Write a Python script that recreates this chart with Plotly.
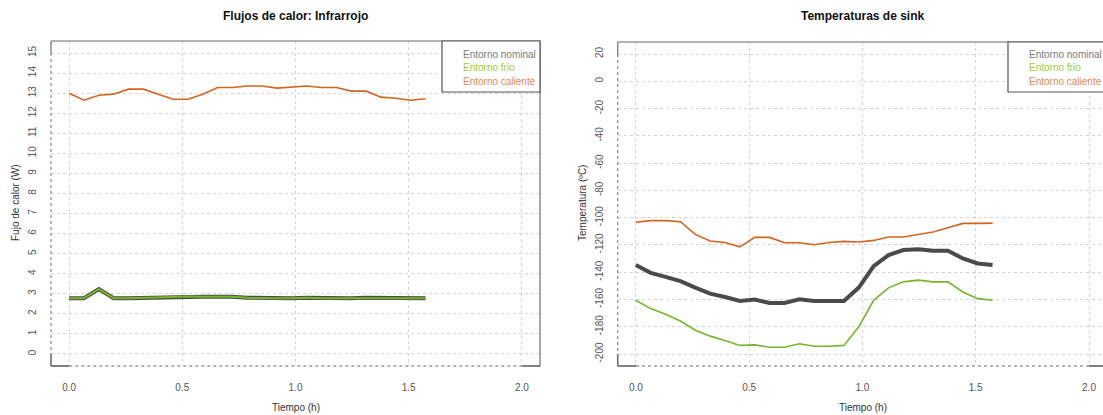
import plotly.graph_objects as go

# ---------------- data ----------------
tiempo = [0.000, 0.0656, 0.1312, 0.1968, 0.2624, 0.328, 0.3936, 0.4592, 0.5248,
          0.5904, 0.656, 0.7216, 0.7872, 0.8528, 0.9184, 0.984, 1.0496, 1.1152,
          1.1808, 1.2464, 1.312, 1.3776, 1.4432, 1.5088, 1.5744]

ir_nominal = [2.78, 2.78, 3.23, 2.78, 2.78, 2.80, 2.80, 2.82, 2.87, 2.85, 2.85, 2.85, 2.80,
              2.78, 2.78, 2.78, 2.80, 2.78, 2.78, 2.78, 2.80, 2.80, 2.78, 2.78, 2.78]
ir_frio = [2.78, 2.78, 3.23, 2.78, 2.78, 2.80, 2.80, 2.82, 2.87, 2.85, 2.85, 2.85, 2.80,
           2.78, 2.78, 2.78, 2.80, 2.78, 2.78, 2.78, 2.80, 2.80, 2.78, 2.78, 2.78]
ir_caliente = [13.0, 12.65, 12.9, 12.95, 13.2, 13.2, 12.95, 12.7, 12.7, 12.95, 13.28, 13.28, 13.36,
               13.36, 13.25, 13.3, 13.36, 13.28, 13.28, 13.1, 13.1, 12.8, 12.75, 12.65, 12.72]

sink_nominal = [-134.8, -140.5, -143.4, -146.6, -151.3, -155.7, -158.2, -161.1, -160.1, -162.6,
                -162.6, -159.9, -161.1, -161.1, -161.1, -151.3, -135.6, -127.5, -123.8, -123.1,
                -124.3, -124.3, -129.9, -133.6, -134.8]
sink_frio = [-160.6, -166.7, -170.9, -175.8, -182.6, -186.9, -190.1, -193.7, -193.3, -195.0,
             -195.0, -192.5, -194.3, -194.3, -193.7, -180.0, -160.6, -151.5, -147.1, -145.8,
             -147.1, -147.1, -154.5, -159.4, -160.6]
sink_caliente = [-103.4, -102.2, -102.2, -103.0, -112.3, -117.2, -118.2, -121.4, -114.5, -114.5,
                 -118.4, -118.4, -119.9, -118.2, -117.4, -117.9, -116.7, -114.2, -114.2, -112.5,
                 -110.6, -107.4, -104.2, -104.2, -104.0]

x_ticks = [0.0, 0.5, 1.0, 1.5, 2.0]
x_ticktext = ["0.0", "0.5", "1.0", "1.5", "2.0"]
ir_ticks = list(range(0, 16))
ir_ticktext = [str(v) for v in ir_ticks]
sink_ticks = [-200, -180, -160, -140, -120, -100, -80, -60, -40, -20, 0, 20]
sink_ticktext = [str(v) for v in sink_ticks]

legend_labels = ["Entorno nominal", "Entorno frio", "Entorno caliente"]

# ---------------- styles ----------------
OFF = 0
W, H = 1103, 415
C_NOM = "#4a4a4a"
C_FRIO = "#76b62a"
C_CAL = "#d2641f"
LEG_COLORS = ["#7a7a7a", "#9acd32", "#e08a55"]
FONT = "Liberation Sans, Arial, sans-serif"
GRID = "#d3d3d3"
GDASH = "3px,3px"

def px(x):
    return (x - OFF) / W

def py(y):
    return 1 - (y - OFF) / H

L_BOX = (51, 540, 41, 366)
R_BOX = (617.7, 1107, 42, 366)

fig = go.Figure()

# left panel
fig.add_trace(go.Scatter(x=tiempo, y=ir_nominal, mode="lines", line=dict(color=C_NOM, width=4),
                         xaxis="x", yaxis="y", showlegend=False))
fig.add_trace(go.Scatter(x=tiempo, y=ir_frio, mode="lines", line=dict(color=C_FRIO, width=2),
                         xaxis="x", yaxis="y", showlegend=False))
fig.add_trace(go.Scatter(x=tiempo, y=ir_caliente, mode="lines", line=dict(color=C_CAL, width=1.6),
                         xaxis="x", yaxis="y", showlegend=False))
# right panel
fig.add_trace(go.Scatter(x=tiempo, y=sink_nominal, mode="lines", line=dict(color=C_NOM, width=4),
                         xaxis="x2", yaxis="y2", showlegend=False))
fig.add_trace(go.Scatter(x=tiempo, y=sink_frio, mode="lines", line=dict(color=C_FRIO, width=1.6),
                         xaxis="x2", yaxis="y2", showlegend=False))
fig.add_trace(go.Scatter(x=tiempo, y=sink_caliente, mode="lines", line=dict(color=C_CAL, width=1.6),
                         xaxis="x2", yaxis="y2", showlegend=False))

tickfont = dict(family=FONT, size=10, color="#555555")
common_x = dict(tickvals=x_ticks, ticktext=x_ticktext, showgrid=True, gridcolor=GRID, griddash=GDASH,
                gridwidth=1, zeroline=False, showline=False, ticks="", tickfont=tickfont,
                ticklabelstandoff=14)
common_y = dict(showgrid=True, gridcolor=GRID, griddash=GDASH, gridwidth=1, zeroline=False,
                showline=False, ticks="", tickfont=tickfont, tickangle=-90, ticklabelstandoff=12)

fig.update_layout(
    width=W, height=H, autosize=False,
    margin=dict(l=0, r=0, t=0, b=0),
    paper_bgcolor="white", plot_bgcolor="white",
    xaxis=dict(domain=[px(L_BOX[0]), px(L_BOX[1])], range=[-0.08, 2.08], anchor="y", **common_x),
    yaxis=dict(domain=[py(L_BOX[3]), py(L_BOX[2])], range=[-0.6, 15.6], anchor="x",
               tickvals=ir_ticks, ticktext=ir_ticktext, **common_y),
    xaxis2=dict(domain=[px(R_BOX[0]), 1.0], range=[-0.08, 2.0618], anchor="y2", **common_x),
    yaxis2=dict(domain=[py(R_BOX[3]), py(R_BOX[2])], range=[-208.8, 28.8], anchor="x2",
                tickvals=sink_ticks, ticktext=sink_ticktext, **common_y),
    showlegend=False,
    hovermode=False,
)

shapes = []
annotations = []

def frame(box, x0val_px, x2val_px, ytop_tick_px, ybot_tick_px):
    l, r, t, b = box
    shapes.append(dict(type="line", xref="paper", yref="paper", x0=px(l), x1=px(r), y0=py(t), y1=py(t),
                       line=dict(color="#9a9a9a", width=1.5)))
    shapes.append(dict(type="line", xref="paper", yref="paper", x0=px(r), x1=px(r), y0=py(t), y1=py(b),
                       line=dict(color="#8a8a8a", width=1.5)))
    shapes.append(dict(type="line", xref="paper", yref="paper", x0=px(l), x1=px(x0val_px), y0=py(b), y1=py(b),
                       line=dict(color="#555555", width=1.5)))
    shapes.append(dict(type="line", xref="paper", yref="paper", x0=px(x0val_px), x1=px(x2val_px), y0=py(b), y1=py(b),
                       line=dict(color="#666666", width=1.2, dash="dot")))
    shapes.append(dict(type="line", xref="paper", yref="paper", x0=px(x2val_px), x1=px(r), y0=py(b), y1=py(b),
                       line=dict(color="#555555", width=1.5)))
    shapes.append(dict(type="line", xref="paper", yref="paper", x0=px(l), x1=px(l), y0=py(t), y1=py(ytop_tick_px),
                       line=dict(color="#8a8a8a", width=1.5)))
    shapes.append(dict(type="line", xref="paper", yref="paper", x0=px(l), x1=px(l), y0=py(ytop_tick_px), y1=py(ybot_tick_px),
                       line=dict(color="#8a8a8a", width=1.2, dash="dot")))
    shapes.append(dict(type="line", xref="paper", yref="paper", x0=px(l), x1=px(l), y0=py(ybot_tick_px), y1=py(b),
                       line=dict(color="#666666", width=1.5)))

frame(L_BOX, 69.3, 522.3, 53.0, 354.0)
frame(R_BOX, 636.0, 1089.0, 54.0, 354.0)

def legend(x_left, x_right, y_top, y_bot, x_text):
    shapes.append(dict(type="rect", xref="paper", yref="paper", x0=px(x_left), x1=px(x_right),
                       y0=py(y_bot), y1=py(y_top), line=dict(color="#555555", width=1.2),
                       fillcolor="white", layer="above"))
    for i, (lab, col) in enumerate(zip(legend_labels, LEG_COLORS)):
        annotations.append(dict(xref="paper", yref="paper", x=px(x_text), y=py(55 + 13 * i),
                                xanchor="left", yanchor="middle", text=lab, showarrow=False,
                                font=dict(family=FONT, size=10, color=col)))

legend(442, 540, 41, 92, 461)
legend(1008, 1110, 42, 92, 1027)

annotations.append(dict(xref="paper", yref="paper", x=px(295.5), y=py(16), xanchor="center", yanchor="middle",
                        text="<b>Flujos de calor: Infrarrojo</b>", showarrow=False,
                        font=dict(family=FONT, size=12, color="#111111")))
annotations.append(dict(xref="paper", yref="paper", x=px(862), y=py(16), xanchor="center", yanchor="middle",
                        text="<b>Temperaturas de sink</b>", showarrow=False,
                        font=dict(family=FONT, size=12, color="#111111")))
annotations.append(dict(xref="paper", yref="paper", x=px(295.5), y=py(407), xanchor="center", yanchor="middle",
                        text="Tiempo (h)", showarrow=False, font=dict(family=FONT, size=10, color="#333333")))
annotations.append(dict(xref="paper", yref="paper", x=px(862.5), y=py(407), xanchor="center", yanchor="middle",
                        text="Tiempo (h)", showarrow=False, font=dict(family=FONT, size=10, color="#333333")))
annotations.append(dict(xref="paper", yref="paper", x=px(15), y=py(203), xanchor="center", yanchor="middle",
                        text="Fujo de calor (W)", textangle=-90, showarrow=False,
                        font=dict(family=FONT, size=10, color="#333333")))
annotations.append(dict(xref="paper", yref="paper", x=px(582), y=py(203), xanchor="center", yanchor="middle",
                        text="Temperatura (ºC)", textangle=-90, showarrow=False,
                        font=dict(family=FONT, size=10, color="#333333")))

fig.update_layout(shapes=shapes, annotations=annotations)
fig.write_html("out.html", config={"displayModeBar": False},
               post_script="document.body.style.margin='0';document.body.style.overflow='hidden';")
